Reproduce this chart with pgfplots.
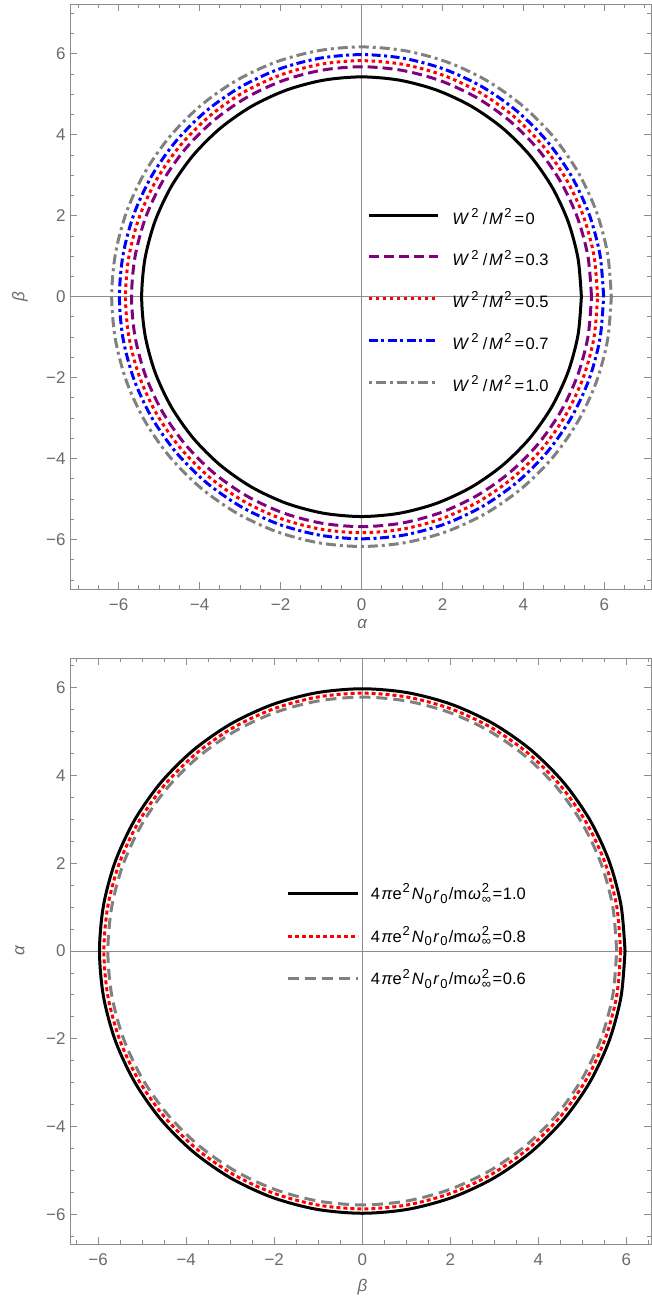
\documentclass[border=0pt]{standalone}
\usepackage{fontspec}
\setmainfont{Liberation Sans}
\usepackage{pgfplots}
\pgfplotsset{compat=1.18}
\usepackage{pgfplotstable}

\definecolor{framegray}{gray}{0.55}
\definecolor{labgray}{gray}{0.42}
\definecolor{mpurple}{rgb}{0.5,0,0.5}
\definecolor{mgray}{gray}{0.5}

\newcommand{\sfolsup}[1]{\raisebox{6.8pt}{\fontsize{13}{14}\selectfont #1}}
\newcommand{\folsub}[1]{\raisebox{-3.8pt}{\fontsize{13}{14}\selectfont #1}}
\newcommand{\folsupsub}[2]{\makebox[0pt][l]{\raisebox{6.8pt}{\fontsize{13}{14}\selectfont #1}}\raisebox{-3.8pt}{\fontsize{13}{14}\selectfont #2}}
\newcommand{\WM}[1]{\textit{W}\kern2pt\sfolsup{2}\kern4.5pt/\kern1.5pt\textit{M}\kern1.5pt\sfolsup{2}\kern3pt=\kern1.5pt#1}
\newcommand{\PL}[1]{4\kern1.5pt\textit{π}e\kern0.8pt\sfolsup{2}\kern2pt\textit{N}\kern0.8pt\folsub{0}\kern1.5pt\textit{r}\kern0.8pt\folsub{0}\kern1.5pt/m\kern0.8pt\textit{ω}\kern0.8pt\folsupsub{2}{∞}\kern1.5pt=\kern0.8pt#1}

% angle (deg), radius of each curve
\pgfplotstableread{
a r1 r2 r3 r4 r5
0 5.43 5.68 5.83 5.98 6.17
10 5.43 5.68 5.83 5.98 6.17
20 5.43 5.68 5.83 5.98 6.17
30 5.43 5.68 5.83 5.98 6.17
40 5.43 5.68 5.83 5.98 6.17
50 5.43 5.68 5.83 5.98 6.17
60 5.43 5.68 5.83 5.98 6.17
70 5.43 5.68 5.83 5.98 6.17
80 5.43 5.68 5.83 5.98 6.17
90 5.43 5.68 5.83 5.98 6.17
100 5.43 5.68 5.83 5.98 6.17
110 5.43 5.68 5.83 5.98 6.17
120 5.43 5.68 5.83 5.98 6.17
130 5.43 5.68 5.83 5.98 6.17
140 5.43 5.68 5.83 5.98 6.17
150 5.43 5.68 5.83 5.98 6.17
160 5.43 5.68 5.83 5.98 6.17
170 5.43 5.68 5.83 5.98 6.17
180 5.43 5.68 5.83 5.98 6.17
190 5.43 5.68 5.83 5.98 6.17
200 5.43 5.68 5.83 5.98 6.17
210 5.43 5.68 5.83 5.98 6.17
220 5.43 5.68 5.83 5.98 6.17
230 5.43 5.68 5.83 5.98 6.17
240 5.43 5.68 5.83 5.98 6.17
250 5.43 5.68 5.83 5.98 6.17
260 5.43 5.68 5.83 5.98 6.17
270 5.43 5.68 5.83 5.98 6.17
280 5.43 5.68 5.83 5.98 6.17
290 5.43 5.68 5.83 5.98 6.17
300 5.43 5.68 5.83 5.98 6.17
310 5.43 5.68 5.83 5.98 6.17
320 5.43 5.68 5.83 5.98 6.17
330 5.43 5.68 5.83 5.98 6.17
340 5.43 5.68 5.83 5.98 6.17
350 5.43 5.68 5.83 5.98 6.17
360 5.43 5.68 5.83 5.98 6.17
}\topdata

\pgfplotstableread{
a r1 r2 r3
0 5.97 5.87 5.78
10 5.97 5.87 5.78
20 5.97 5.87 5.78
30 5.97 5.87 5.78
40 5.97 5.87 5.78
50 5.97 5.87 5.78
60 5.97 5.87 5.78
70 5.97 5.87 5.78
80 5.97 5.87 5.78
90 5.97 5.87 5.78
100 5.97 5.87 5.78
110 5.97 5.87 5.78
120 5.97 5.87 5.78
130 5.97 5.87 5.78
140 5.97 5.87 5.78
150 5.97 5.87 5.78
160 5.97 5.87 5.78
170 5.97 5.87 5.78
180 5.97 5.87 5.78
190 5.97 5.87 5.78
200 5.97 5.87 5.78
210 5.97 5.87 5.78
220 5.97 5.87 5.78
230 5.97 5.87 5.78
240 5.97 5.87 5.78
250 5.97 5.87 5.78
260 5.97 5.87 5.78
270 5.97 5.87 5.78
280 5.97 5.87 5.78
290 5.97 5.87 5.78
300 5.97 5.87 5.78
310 5.97 5.87 5.78
320 5.97 5.87 5.78
330 5.97 5.87 5.78
340 5.97 5.87 5.78
350 5.97 5.87 5.78
360 5.97 5.87 5.78
}\botdata

\pgfplotsset{
  mmaframe/.style={
    scale only axis,
    axis line style={framegray, line width=0.9pt},
    every tick/.style={framegray, line width=0.9pt},
    tick align=inside,
    major tick length=7pt,
    minor tick length=4pt,
    xtick={-6,-4,-2,0,2,4,6},
    xticklabels={−6,−4,−2,0,2,4,6},
    ytick={-6,-4,-2,0,2,4,6},
    yticklabels={−6,−4,−2,0,2,4,6},
    minor xtick={-7,-6.5,...,7},
    minor ytick={-7,-6.5,...,7},
    tick label style={font=\fontsize{17}{19}\selectfont, text=labgray},
    xticklabel style={yshift=-6pt},
    yticklabel style={xshift=-1pt},
    label style={font=\fontsize{17}{19}\selectfont\itshape, text=labgray},
    extra x ticks={0}, extra x tick labels={},
    extra y ticks={0}, extra y tick labels={},
    extra tick style={grid=major, major grid style={framegray, line width=0.9pt}},
    legend cell align=left,
    every axis plot/.append style={line width=3pt, smooth},
  },
  curve/.style={data cs=polar},
}

\begin{document}
\begin{tikzpicture}
\useasboundingbox (0pt,0pt) rectangle (652pt,-1300pt);

% ---------- top panel ----------
\begin{axis}[mmaframe,
  at={(70pt,-4pt)}, anchor=north west,
  width=581pt, height=585pt,
  xmin=-7.2, xmax=7.15, ymin=-7.22, ymax=7.23,
  xlabel={α}, ylabel={β},
  xlabel style={at={(axis description cs:0.503,0)}, anchor=center, yshift=-35pt},
  ylabel style={at={(axis description cs:0,0.5)}, anchor=center, yshift=50pt},
  legend style={at={(axis cs:0.14,2.24)}, anchor=north west, draw=none, fill=none,
    inner sep=0pt, row sep=23.7pt,
    font=\fontsize{16.5}{18}\selectfont,
    nodes={inner sep=0pt, text height=18pt, text depth=0pt}},
  legend image code/.code={\draw[#1] (0pt,0pt) -- (69pt,0pt); \path (82pt,0pt);},
]
\addplot[curve, black] table[x=a, y=r1] {\topdata};
\addlegendentry{\WM{0}}
\addplot[curve, mpurple, dash pattern=on 10pt off 5pt] table[x=a, y=r2] {\topdata};
\addlegendentry{\WM{0.3}}
\addplot[curve, red, dash pattern=on 3.5pt off 3.5pt] table[x=a, y=r3] {\topdata};
\addlegendentry{\WM{0.5}}
\addplot[curve, blue, dash pattern=on 9pt off 3.5pt on 3pt off 3.5pt] table[x=a, y=r4] {\topdata};
\addlegendentry{\WM{0.7}}
\addplot[curve, mgray, dash pattern=on 3pt off 4pt on 10pt off 4pt] table[x=a, y=r5] {\topdata};
\addlegendentry{\WM{1.0}}
\end{axis}

% ---------- bottom panel ----------
\begin{axis}[mmaframe,
  at={(70pt,-658pt)}, anchor=north west,
  width=581pt, height=586pt,
  xmin=-6.64, xmax=6.56, ymin=-6.67, ymax=6.67,
  xlabel={β}, ylabel={α},
  xlabel style={at={(axis description cs:0.5035,0)}, anchor=center, yshift=-43pt},
  ylabel style={at={(axis description cs:0,0.5)}, anchor=center, yshift=50pt},
  legend style={at={(axis cs:-1.72,1.50)}, anchor=north west, draw=none, fill=none,
    inner sep=0pt, row sep=26.8pt,
    font=\fontsize{16.5}{18}\selectfont,
    nodes={inner sep=0pt, text height=14pt, text depth=2pt}},
  legend image code/.code={\draw[#1] (0pt,0pt) -- (70pt,0pt); \path (81pt,0pt);},
]
\addplot[curve, black] table[x=a, y=r1] {\botdata};
\addlegendentry{\PL{1.0}}
\addplot[curve, red, dash pattern=on 4pt off 3pt] table[x=a, y=r2] {\botdata};
\addlegendentry{\PL{0.8}}
\addplot[curve, mgray, dash pattern=on 11pt off 6pt] table[x=a, y=r3] {\botdata};
\addlegendentry{\PL{0.6}}
\end{axis}
\end{tikzpicture}
\end{document}
